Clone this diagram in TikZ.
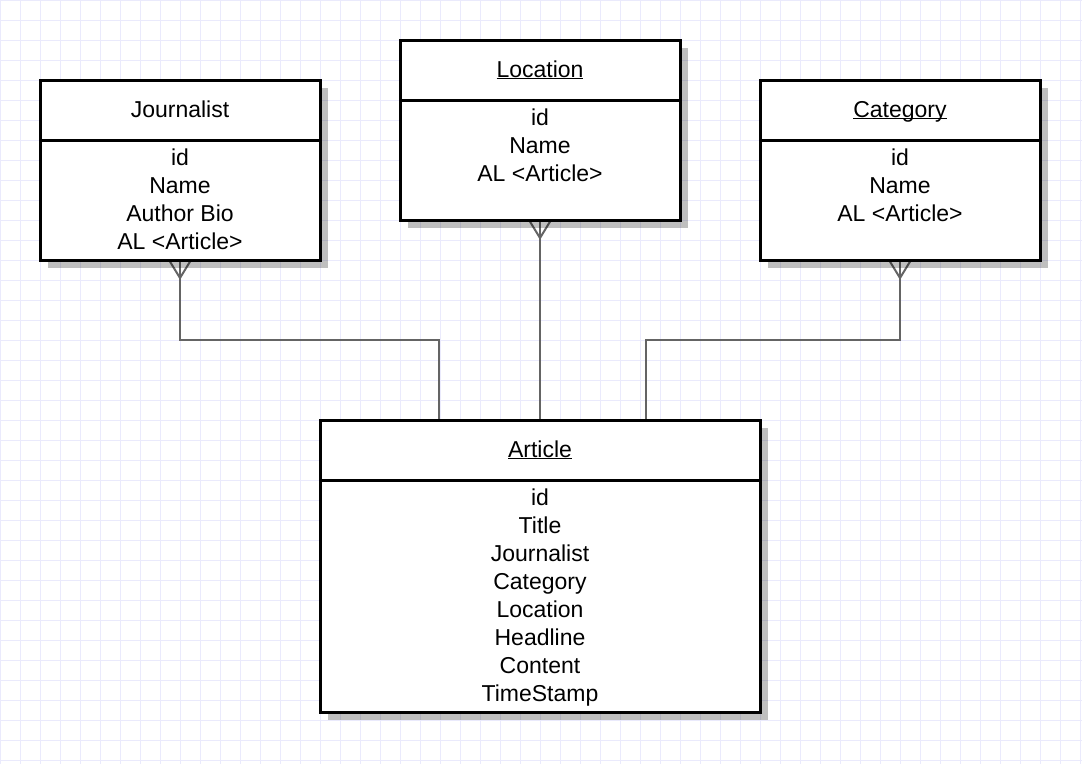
\documentclass[tikz,border=0pt]{standalone}
\usepackage{fontspec}
\setmainfont{Liberation Sans}
\usetikzlibrary{positioning,calc,shadows,backgrounds}
\definecolor{gridlavender}{RGB}{234,234,252}
\definecolor{linkgray}{RGB}{100,100,100}
\newcommand{\keyname}[1]{\underline{\raisebox{0pt}[\height][0pt]{#1}}}

\begin{document}
\begin{tikzpicture}[
        x=1pt, y=-1pt,
        font=\fontsize{23}{28}\selectfont,
        entity/.style={draw, line width=3pt, fill=white, outer sep=0pt, minimum width=280pt,
            drop shadow={shadow xshift=8pt, shadow yshift=-8pt, fill=black, opacity=0.25}},
        head/.style={entity, minimum height=60pt, text height=14pt, text depth=0pt},
        body/.style={entity, minimum height=120pt},
        attrs/.style={anchor=north, align=center, inner ysep=8.4pt},
        link/.style={draw=linkgray, line width=2pt}
    ]
    \useasboundingbox (0,0) rectangle (1082,764);

    % entities
    \node[head] (jour) at (180,110) {Journalist};
    \node[body, below=0pt of jour] (jourbody) {};
    \node[attrs] (jourattr) at (jourbody.north) {id\\Name\\Author Bio\\AL <Article>};

    \node[head] (loc) at (540,70) {\keyname{Location}};
    \node[body, below=0pt of loc] (locbody) {};
    \node[attrs] (locattr) at (locbody.north) {id\\Name\\AL <Article>};

    \node[head] (cat) at (900,110) {\keyname{Category}};
    \node[body, below=0pt of cat] (catbody) {};
    \node[attrs] (catattr) at (catbody.north) {id\\Name\\AL <Article>};

    \node[head, minimum width=440pt] (art) at (540,450) {\keyname{Article}};
    \node[body, minimum width=440pt, minimum height=232pt, below=0pt of art] (artbody) {};
    \node[attrs] (artattr) at (artbody.north) {id\\Title\\Journalist\\Category\\Location\\Headline\\Content\\TimeStamp};

    \begin{scope}[on background layer]
        \fill[white] (0,0) rectangle (1082,764);
        \draw[step=20pt, gridlavender, line width=1pt] (0,0) grid (1082,764);

        % relations
        \draw[link] (jourbody.south) -- ++(0,80) -| ($(art.north)+(-101,0)$);
        \draw[link] (locbody.south) -- (art.north);
        \draw[link] (catbody.south) -- ++(0,80) -| ($(art.north)+(106,0)$);
        \foreach \e in {jourbody,locbody,catbody}
            \draw[link] ($(\e.south)+(-11,0)$) -- ($(\e.south)+(0,18)$) -- ($(\e.south)+(11,0)$);
    \end{scope}
\end{tikzpicture}
\end{document}
